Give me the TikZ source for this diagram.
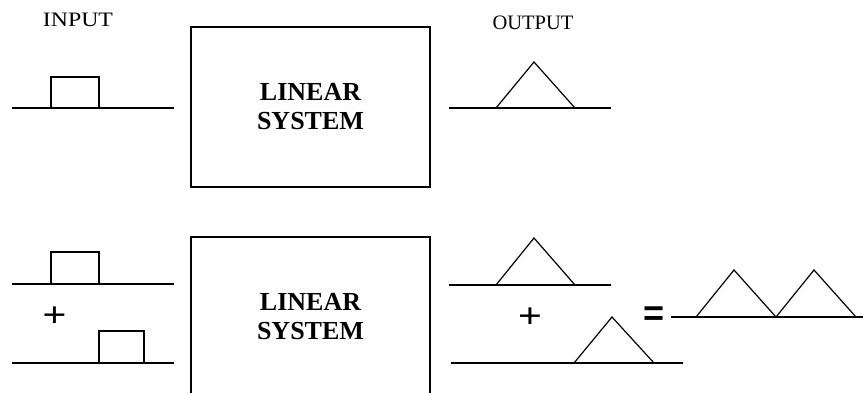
\documentclass[tikz,border=0pt]{standalone}
\usepackage{fontspec}
\setmainfont{Liberation Serif}
\newfontfamily\sansf{Liberation Sans}
\begin{document}
\begin{tikzpicture}[x=1pt,y=-1pt,
  sig/.style={line width=1.2pt, line join=miter},
  sysbox/.style={draw, line width=1.2pt, rectangle, inner sep=0pt},
  lbl/.style={inner sep=0pt, anchor=base, font=\fontsize{20.5}{24}\selectfont},
  big/.style={inner sep=0pt, anchor=base, font=\fontsize{26}{29}\selectfont\bfseries},
  plus/.style={inner sep=0pt, font=\sansf\fontsize{34}{36}\selectfont},
  eqs/.style={inner sep=0pt, font=\sansf\bfseries\fontsize{36}{38}\selectfont}]
\clip (0,0) rectangle (863,392);
\useasboundingbox (0,0) rectangle (863,392);

% labels
\node[lbl] (inlbl) at (78,26) {\scalebox{1.16}[1]{INPUT}};
\node[lbl] (outlbl) at (533,29) {OUTPUT};

% top system
\node[sysbox, minimum width=239pt, minimum height=160pt] (sys1) at (310.5,107) {};
\node[big] (lin1) at (sys1.center |- 0,100) {LINEAR};
\node[big] (sysA) at (sys1.center |- 0,129) {SYSTEM};

% top input
\draw[sig] (12,108) -- (51,108) -- (51,77) -- (99,77) -- (99,108) -- (174,108);
\draw[sig] (51,108) -- (99,108);
% top output
\draw[sig] (449,108) -- (611,108);
\draw[sig] (496,108) -- (534,62) -- (575,108);

% bottom system (open at bottom)
\draw[line width=1.2pt] (191,400) -- (191,237) -- (430,237) -- (430,400);
\coordinate (sys2) at (310.5,316);
\node[big] (lin2) at (sys2 |- 0,310) {LINEAR};
\node[big] (sysB) at (sys2 |- 0,339) {SYSTEM};

% bottom inputs
\draw[sig] (12,284) -- (51,284) -- (51,252) -- (99,252) -- (99,284) -- (174,284);
\draw[sig] (51,284) -- (99,284);
\node[plus] (p1) at (54.5,317) {\scalebox{1.2}[1]{+}};
\draw[sig] (12,363) -- (99,363) -- (99,331) -- (144,331) -- (144,363) -- (174,363);
\draw[sig] (99,363) -- (144,363);

% bottom outputs
\draw[sig] (449,285) -- (611,285);
\draw[sig] (496,285) -- (534,238) -- (575,285);
\node[plus] (p2) at (530,318) {\scalebox{1.2}[1]{+}};
\draw[sig] (451,363) -- (683,363);
\draw[sig] (574,363) -- (612,317) -- (654,363);

% equals and sum
\node[eqs] (eq) at (654.5,316) {=};
\draw[sig] (671,317) -- (863,317);
\draw[sig] (696,317) -- (734,270) -- (776,317) -- (814,270) -- (856,317);
\end{tikzpicture}
\end{document}
